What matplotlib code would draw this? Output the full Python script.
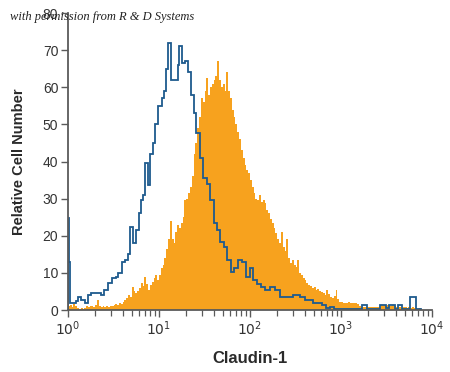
import numpy as np
import matplotlib
matplotlib.use("Agg")
import matplotlib.pyplot as plt
from matplotlib.ticker import LogLocator, NullFormatter, FixedLocator

plt.rcParams['font.family'] = ['Liberation Sans Narrow', 'Liberation Sans', 'DejaVu Sans']
plt.rcParams['mathtext.fontset'] = 'custom'
plt.rcParams['mathtext.rm'] = 'Liberation Sans Narrow'
plt.rcParams['mathtext.it'] = 'Liberation Sans Narrow:italic'

# ---- data ----
# Isotype control (blue outline): step edges in log10(fluorescence) and counts
blue_edges_log = [0.000, 0.011, 0.027, 0.088, 0.110, 0.143, 0.187, 0.220, 0.253, 0.363,
                  0.396, 0.440, 0.484, 0.527, 0.549, 0.593, 0.626, 0.659, 0.681, 0.714,
                  0.747, 0.775, 0.802, 0.824, 0.846, 0.879, 0.901, 0.934, 0.956, 0.989,
                  1.033, 1.055, 1.077, 1.104, 1.137, 1.209, 1.225, 1.253, 1.286, 1.319,
                  1.352, 1.385, 1.412, 1.451, 1.489, 1.527, 1.560, 1.599, 1.637, 1.670,
                  1.714, 1.747, 1.791, 1.824, 1.868, 1.912, 1.956, 2.000, 2.033, 2.077,
                  2.121, 2.165, 2.220, 2.275, 2.330, 2.473, 2.549, 2.604, 2.692, 2.791,
                  2.835, 2.879, 2.923, 3.231, 3.286, 3.429, 3.495, 3.527, 3.593, 3.626,
                  3.670, 3.758, 3.824, 3.879]
blue_counts = [24.8, 13, 2.0, 2.5, 3.5, 2.7, 1.9, 4.0, 4.5, 4.0,
               5.4, 7.2, 8.6, 9.0, 10, 13, 13.5, 15, 22.4, 18,
               21.5, 26, 29.6, 31, 39.6, 33.7, 42, 45, 50, 55,
               57, 59, 65, 72, 62, 66, 71, 66.5, 67, 64,
               58, 53, 47.7, 41, 35.5, 34, 29.6, 23.4, 21.5, 18.3,
               17, 13.5, 10.2, 11.3, 13.5, 13, 9, 11.3, 8, 7,
               6.2, 5.4, 6.2, 5.4, 3.5, 4, 3.5, 2.7, 1.9, 1.3,
               0.5, 0.8, 0.3, 1.3, 0.3, 1.3, 0.5, 1.3, 0.3, 1.3,
               0.3, 3.5, 0.3]

# Claudin-1 stained (orange filled): bins of 0.02 decade starting at 10^0
orange_bin_log = 0.02
orange_counts = [
    1.0, 1.3, 0.9, 1.6, 1.0, 0.5, 0.3, 0.6, 0.4, 0.5,
    1.0, 0.8, 1.2, 1.0, 0.7, 1.4, 2.7, 1.2, 0.8, 1.0,
    0.9, 1.1, 0.8, 1.2, 1.0, 1.3, 1.5, 1.4, 1.8, 1.6,
    2.2, 2.7, 3.2, 4.0, 3.5, 6.2, 5.0, 4.5, 5.2, 6.0,
    7.2, 6.5, 8.9, 7.0, 5.4, 6.8, 7.6, 8.5, 9.4, 8.0,
    9.5, 11.3, 12.0, 14, 16.5, 19, 24, 19, 18, 21,
    23, 22, 23.4, 25, 29.6, 30, 31.5, 33, 36, 42,
    45, 49, 52, 57, 56, 59, 62.5, 58, 60, 61,
    62, 63, 67, 62, 60, 61, 59, 64, 59, 57,
    54, 52, 50, 48, 46, 43, 41, 39, 37.7, 37,
    35, 33, 31.5, 30, 29.6, 31, 29, 29.6, 28.7, 27,
    26, 24.5, 23.4, 22, 20.7, 19, 18, 21, 17, 16,
    19, 14, 12.6, 13.5, 12, 11.5, 13.5, 10, 9.5, 8.6,
    8.0, 7.2, 6.8, 6.5, 5.9, 6.3, 5.4, 5.6, 5.0, 4.9,
    4.5, 4.0, 5.4, 4.2, 3.5, 3.2, 3.8, 5.4, 3.0, 2.2,
    2.2, 1.9, 2.0, 1.9, 2.1, 1.9, 1.8, 2.0, 1.9, 1.6,
    1.2, 0.9, 0.8, 0.8, 0.9, 0.8, 0.7, 0.8, 0.9, 0.8,
    0.8, 0.9, 1.3, 1.3, 1.2, 1.3, 1.4, 1.2, 1.3, 1.1,
    0.8, 0.7, 0.8, 0.6, 0.7, 0.8, 0.6, 0.7, 0.6, 0.7,
    0.5, 0.6, 0.4, 0.5]

y_ticks = [0, 10, 20, 30, 40, 50, 60, 70, 80]
x_ticks = [1, 10, 100, 1000, 10000]
x_tick_labels = [r'$10^{0}$', r'$10^{1}$', r'$10^{2}$', r'$10^{3}$', r'$10^{4}$']
x_label = 'Claudin-1'
y_label = 'Relative Cell Number'
credit = 'with permission from R & D Systems'

ORANGE = '#F7A21E'
BLUE = '#1E5A8E'
AXIS = '#5a5a5a'

fig = plt.figure(figsize=(4.5, 3.72), dpi=100)
ax = fig.add_axes([68/450, 1-310/372, 364/450, 297/372])

orange_edges = 10 ** (np.arange(len(orange_counts) + 1) * orange_bin_log)
ax.stairs(orange_counts, orange_edges, fill=True, color=ORANGE, linewidth=0, zorder=2)
ax.stairs(blue_counts, 10 ** np.array(blue_edges_log), color=BLUE, linewidth=1.3,
          baseline=0, zorder=3)

ax.set_xscale('log')
ax.set_xlim(1, 10000)
ax.set_ylim(0, 80)

ax.xaxis.set_major_locator(FixedLocator(x_ticks))
ax.set_xticklabels(x_tick_labels)
ax.xaxis.set_minor_locator(LogLocator(base=10, subs=np.arange(2, 10)))
ax.xaxis.set_minor_formatter(NullFormatter())
ax.set_yticks(y_ticks)

for s in ['top', 'right']:
    ax.spines[s].set_visible(False)
for s in ['left', 'bottom']:
    ax.spines[s].set_color(AXIS)
    ax.spines[s].set_linewidth(1.3)
    ax.spines[s].set_zorder(4)

ax.tick_params(axis='both', which='major', direction='out', length=5, width=1.0,
               color=AXIS, labelcolor='#333333', labelsize=10, pad=2)
ax.tick_params(axis='x', which='minor', direction='out', length=4, width=0.9, color=AXIS)

ax.set_xlabel(x_label, fontsize=12, fontweight='bold', color='#2a2a2a', labelpad=9)
ax.set_ylabel(y_label, fontsize=10.5, fontweight='bold', color='#2a2a2a', labelpad=12)

fig.text(10/450, 1-17/372, credit, fontsize=9, fontstyle='italic',
         family=['Liberation Serif', 'DejaVu Serif'], color='#222222', va='center', ha='left',
         zorder=10)

fig.savefig('out.png', dpi=100)
